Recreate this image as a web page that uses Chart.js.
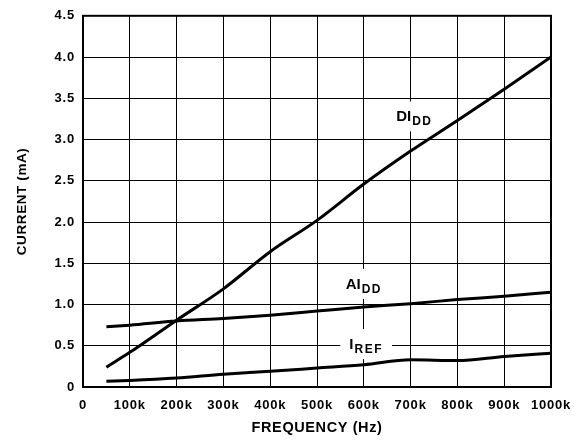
<!DOCTYPE html>
<html>
<head>
<meta charset="utf-8">
<script src="https://cdn.jsdelivr.net/npm/chart.js@4/dist/chart.umd.min.js"></script>
<style>
html,body{margin:0;padding:0;background:#fff;}
#wrap{width:583px;height:441px;position:relative;}
</style>
</head>
<body>
<div id="wrap"><canvas id="c" width="583" height="441"></canvas></div>
<script>
// Data (frequency in Hz, current in mA)
const freqs = [50000, 100000, 200000, 300000, 400000, 500000, 600000, 700000, 800000, 900000, 1000000];
const diddValues = [0.24, 0.42, 0.81, 1.19, 1.64, 2.02, 2.46, 2.86, 3.23, 3.61, 4.00];
const aiddValues = [0.73, 0.75, 0.80, 0.83, 0.87, 0.92, 0.97, 1.01, 1.06, 1.10, 1.15];
const irefValues = [0.07, 0.08, 0.11, 0.155, 0.19, 0.23, 0.27, 0.33, 0.32, 0.37, 0.41];
const seriesNames = ['DIDD', 'AIDD', 'IREF'];
const yTicks = [0, 0.5, 1.0, 1.5, 2.0, 2.5, 3.0, 3.5, 4.0, 4.5];
const xTickLabels = ['0','100k','200k','300k','400k','500k','600k','700k','800k','900k','1000k'];

// Curve annotations: [main text, subscript, x value, y value]
const curveLabels = [
  ['DI', 'DD', 708000, 3.28],
  ['AI', 'DD', 600000, 1.25],
  ['I', 'REF', 605000, 0.52]
];

const toPts = vals => freqs.map((f, i) => ({x: f, y: vals[i]}));

const FONT = "'Liberation Sans', Arial, Helvetica, sans-serif";

function spacingFor(size) {
  if (size <= 12) return 1.5;
  if (size <= 13) return 0.8;
  if (size < 15) return 0.6;
  return 0;
}

const spacingPlugin = {
  id: 'spacing',
  beforeDraw(chart) {
    const ctx = chart.ctx;
    if (ctx.__patched) return;
    const orig = ctx.fillText;
    ctx.fillText = function (t, x, y, mw) {
      const m = /(\d+(?:\.\d+)?)px/.exec(this.font);
      const size = m ? parseFloat(m[1]) : 12;
      const prev = this.letterSpacing;
      this.letterSpacing = spacingFor(size) + 'px';
      if (mw === undefined) orig.call(this, t, x, y); else orig.call(this, t, x, y, mw);
      this.letterSpacing = prev;
    };
    ctx.__patched = true;
  }
};

const framePlugin = {
  id: 'frame',
  beforeDatasetsDraw(chart) {
    const ctx = chart.ctx;
    const xs = chart.scales.x, ys = chart.scales.y;
    curveLabels.forEach(([main, sub, xv, yv]) => {
      const cx = xs.getPixelForValue(xv);
      const cy = ys.getPixelForValue(yv);
      ctx.save();
      ctx.font = "bold 15px " + FONT;
      const mw = ctx.measureText(main).width + 1;
      ctx.font = "bold 12px " + FONT;
      const sw = ctx.measureText(sub).width + sub.length * 1.5;
      const tw = mw + sw;
      const x0 = cx - tw / 2;
      ctx.fillStyle = '#fff';
      ctx.fillRect(x0 - 9, cy - 15, tw + 18, 30);
      ctx.fillStyle = '#000';
      ctx.textBaseline = 'alphabetic';
      ctx.textAlign = 'left';
      ctx.font = "bold 15px " + FONT;
      ctx.fillText(main, x0, cy + 5);
      ctx.font = "bold 12px " + FONT;
      ctx.fillText(sub, x0 + mw, cy + 9);
      ctx.restore();
    });
  },
  afterDatasetsDraw(chart) {
    const ctx = chart.ctx;
    const a = chart.chartArea;
    ctx.save();
    ctx.strokeStyle = '#000';
    ctx.lineWidth = 2;
    ctx.strokeRect(a.left, a.top, a.right - a.left, a.bottom - a.top);
    ctx.restore();
  }
};

const lineStyle = {borderColor: '#000', borderWidth: 3, pointRadius: 0, fill: false, cubicInterpolationMode: 'monotone'};

new Chart(document.getElementById('c'), {
  type: 'line',
  data: {
    datasets: [
      Object.assign({label: seriesNames[0], data: toPts(diddValues)}, lineStyle),
      Object.assign({label: seriesNames[1], data: toPts(aiddValues)}, lineStyle),
      Object.assign({label: seriesNames[2], data: toPts(irefValues)}, lineStyle)
    ]
  },
  options: {
    responsive: false,
    animation: false,
    devicePixelRatio: 1,
    layout: {padding: {left: 0, top: 12, right: 32, bottom: 0}},
    plugins: {legend: {display: false}, tooltip: {enabled: false}},
    scales: {
      x: {
        type: 'linear',
        min: 0, max: 1000000,
        afterFit(s) { s.height = 54; },
        afterBuildTicks(s) { s.ticks = xTickLabels.map((t, i) => ({value: i * 100000})); },
        ticks: {
          autoSkip: false, maxRotation: 0, padding: 11, color: '#000',
          font: {family: FONT, size: 13, weight: 'bold'},
          callback: (v, i) => xTickLabels[i]
        },
        grid: {color: '#000', lineWidth: 1, drawTicks: false},
        border: {display: false},
        title: {display: true, text: 'FREQUENCY (Hz)', color: '#000', padding: {top: 4, bottom: 4},
          font: {family: FONT, size: 14.5, weight: 'bold'}}
      },
      y: {
        type: 'linear',
        min: 0, max: 4.5,
        afterFit(s) { s.width = 83; },
        afterBuildTicks(s) { s.ticks = yTicks.map(v => ({value: v})); },
        ticks: {
          autoSkip: false, padding: 8, color: '#000',
          font: {family: FONT, size: 13, weight: 'bold'},
          callback: v => v === 0 ? '0' : v.toFixed(1)
        },
        grid: {color: '#000', lineWidth: 1, drawTicks: false},
        border: {display: false},
        title: {display: true, text: 'CURRENT (mA)', color: '#000', padding: {top: 14, bottom: 4},
          font: {family: FONT, size: 13.5, weight: 'bold'}}
      }
    }
  },
  plugins: [spacingPlugin, framePlugin]
});
</script>
</body>
</html>
